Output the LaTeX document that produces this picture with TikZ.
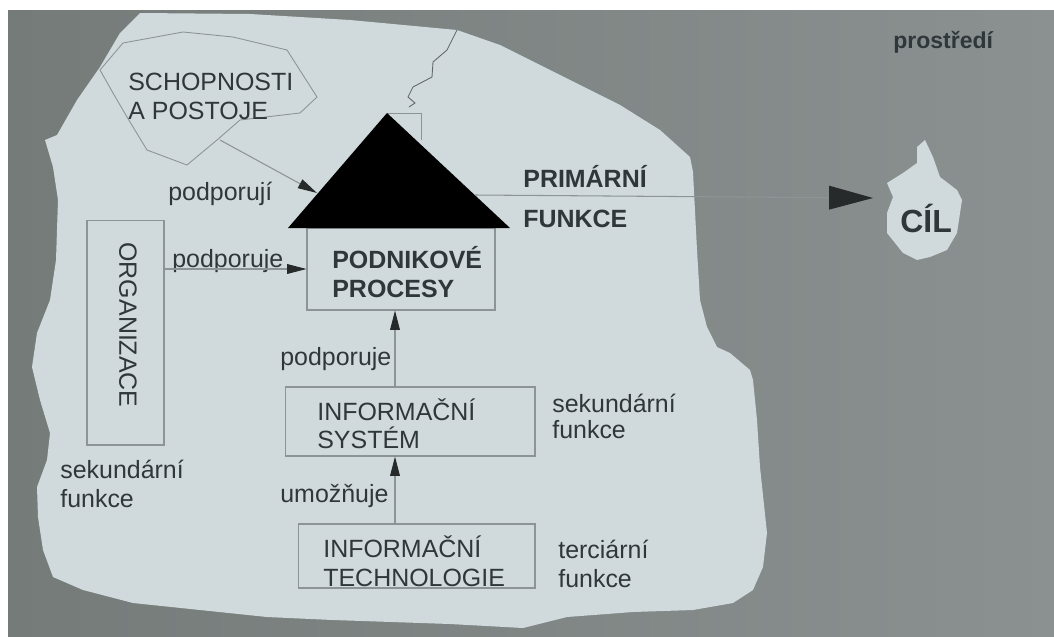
\documentclass[tikz,border=0pt]{standalone}
\usepackage{fontspec}
\setmainfont{Liberation Sans}
\usetikzlibrary{arrows.meta,calc}

\definecolor{paper}{HTML}{D0D9DB}
\definecolor{deskL}{HTML}{757B79}
\definecolor{deskR}{HTML}{8B9190}
\definecolor{ink}{HTML}{30373A}
\definecolor{rule}{HTML}{8C9495}
\definecolor{solid}{HTML}{262A2B}

\begin{document}
\begin{tikzpicture}[x=0.02cm,y=-0.02cm,
  lbl/.style={anchor=base west, inner sep=0pt, text=ink,
              font=\fontsize{14.2pt}{16.5pt}\selectfont},
  blbl/.style={lbl, font=\fontsize{14.2pt}{16.5pt}\selectfont\bfseries},
  box/.style={draw=rule, line width=0.6pt, inner sep=0pt},
  conn/.style={draw=rule, line width=0.6pt,
               -{Triangle[length=11pt,width=5.5pt,color=solid]}},
  bigconn/.style={draw=rule, line width=0.6pt,
               -{Triangle[length=25pt,width=13.5pt,color=solid]}},
  outline/.style={draw=rule, line width=0.5pt},
]
\useasboundingbox (0,0) rectangle (1054,636);
\fill[white] (0,0) rectangle (1054,636);
\shade[left color=deskL, right color=deskR] (8,10) rectangle (1054,636);

% torn sheet of paper
\fill[paper] (140,13) -- (250,14) -- (350,20) -- (457,30) -- (500,45)
  -- (560,75) -- (620,105) -- (660,130) -- (690,157) -- (693,172)
  -- (697,250) -- (700,300) -- (707,327) -- (717,347) -- (730,353)
  -- (750,370) -- (753,380) -- (757,420) -- (760,467) -- (767,533)
  -- (763,567) -- (753,590) -- (733,603) -- (693,610) -- (633,612)
  -- (567,617) -- (523,628) -- (450,624) -- (333,620) -- (267,617)
  -- (200,610) -- (133,603) -- (83,590) -- (53,577) -- (43,550)
  -- (38,517) -- (37,487) -- (47,460) -- (50,433) -- (40,400)
  -- (32,367) -- (37,333) -- (50,300) -- (56,260) -- (58,200)
  -- (53,167) -- (45,140) -- (57,135) -- (77,100) -- (100,67)
  -- (120,33) -- cycle;
% crack in the sheet
\draw[rule!70!black, line width=0.5pt] (457,30) -- (447,50) -- (433,62)
  -- (432,77) -- (413,87) -- (408,97) -- (415,103) -- (409,107);

% goal blob
\fill[paper] (925,140) -- (933,157) -- (940,177) -- (957,190) -- (962,200)
  -- (957,233) -- (947,250) -- (930,257) -- (917,260) -- (903,253)
  -- (887,233) -- (887,213) -- (893,197) -- (887,183) -- (903,173)
  -- (917,163) -- (917,147) -- cycle;
\node[lbl, font=\fontsize{18.2pt}{20pt}\selectfont\bfseries] (cil) at (900,232) {CÍL};
\node[lbl, font=\fontsize{13.1pt}{15pt}\selectfont\bfseries] (env) at (893,48) {prostředí};

% abilities and attitudes blob
\draw[outline] (100,70) -- (123,43) -- (183,32) -- (233,37) -- (287,50)
  -- (317,97) -- (300,113) -- (240,120) -- (217,140) -- (187,165)
  -- (147,150) -- (127,117) -- (113,93) -- cycle;
\node[lbl] (sk1) at (128,90) {SCHOPNOSTI};
\node[lbl] (sk2) at (128,119) {A POSTOJE};
\coordinate (skout) at (220,140);

% boxes
\draw[outline] (388,113) -- (421,113) -- (421,140);
\node[box, minimum width=3.76cm, minimum height=1.64cm] (proc) at (401,269) {};
\node[box, minimum width=1.54cm, minimum height=4.5cm] (org) at (125.5,332.5) {};
\node[box, minimum width=5cm, minimum height=1.38cm] (is) at (410,421.5) {};
\node[box, minimum width=4.74cm, minimum height=1.28cm] (it) at (416.5,556) {};

% the pyramid of primary function
\coordinate (apex) at (387,113);
\coordinate (baseL) at (288,228);
\coordinate (baseR) at (510,228);
\fill[solid] (apex) -- (baseR) -- (baseL) -- cycle;
\coordinate (triin) at (317,193);
\coordinate (triout) at (475,195);
\coordinate (goalin) at (873,198);

% box texts
\node[blbl] (p1) at (332,268) {PODNIKOVÉ};
\node[blbl] (p2) at (332,297) {PROCESY};
\node[lbl, anchor=center, rotate=-90] (orgtxt) at (128,325) {ORGANIZACE};
\node[lbl] (is1) at (317,420) {INFORMAČNÍ};
\node[lbl] (is2) at (317,448) {SYSTÉM};
\node[lbl] (it1) at (323,557) {INFORMAČNÍ};
\node[lbl] (it2) at (323,586) {TECHNOLOGIE};

% free labels
\node[lbl] (l1) at (168,200) {podporují};
\node[blbl] (pf1) at (523,187) {PRIMÁRNÍ};
\node[blbl] (pf2) at (523,227) {FUNKCE};
\node[lbl] (l2) at (172,267) {podporuje};
\node[lbl] (l3) at (280,365) {podporuje};
\node[lbl] (l4) at (280,502) {umožňuje};
\node[lbl] (sf1) at (552,412) {sekundární};
\node[lbl] (sf2) at (552,438) {funkce};
\node[lbl] (tf1) at (558,558) {terciární};
\node[lbl] (tf2) at (558,587) {funkce};
\node[lbl] (sl1) at (60,478) {sekundární};
\node[lbl] (sl2) at (60,507) {funkce};

% connectors
\coordinate (spine) at (395,0);
\draw[conn] (skout) -- (triin);
\draw[conn] (org.east |- proc.west) -- (proc.west);
\draw[conn] (is.north -| spine) -- (proc.south -| spine);
\draw[conn] (it.north -| spine) -- (is.south -| spine);
\draw[bigconn] (triout) -- (goalin);
\end{tikzpicture}
\end{document}
